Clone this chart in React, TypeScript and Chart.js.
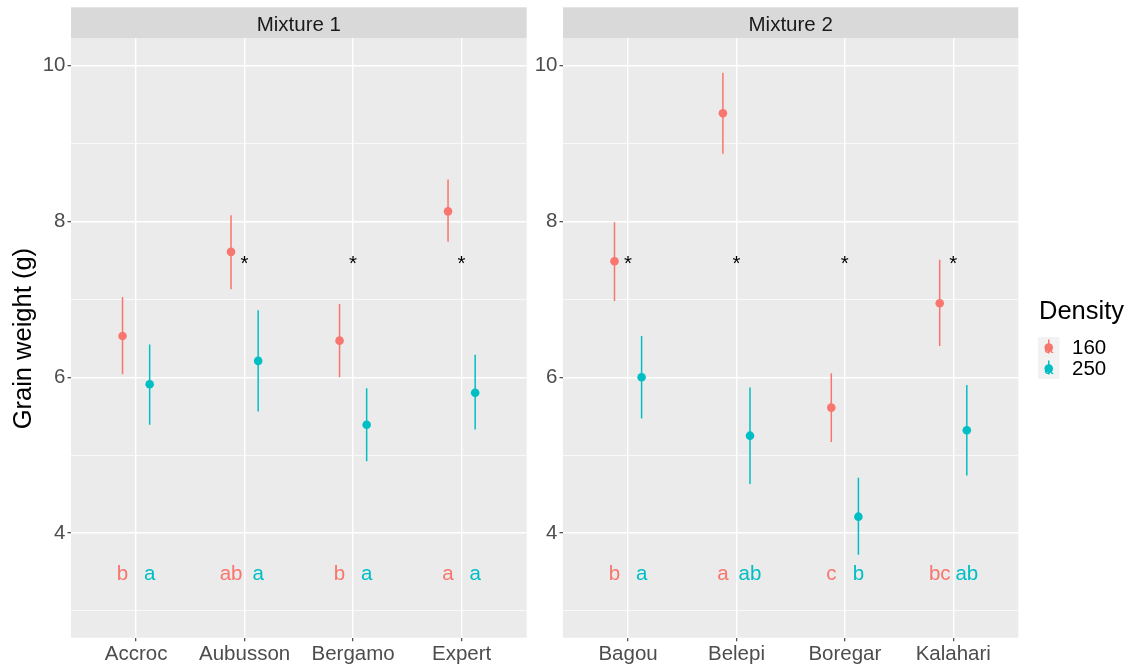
import React, { useEffect, useRef } from 'react';
import { Chart, registerables } from 'chart.js';

Chart.register(...registerables);

// ---------- data ----------
const mix1Categories = ['Accroc', 'Aubusson', 'Bergamo', 'Expert'];
const mix2Categories = ['Bagou', 'Belepi', 'Boregar', 'Kalahari'];
const densityLevels = ['160', '250'];

const mix1Mean160 = [6.53, 7.61, 6.47, 8.13];
const mix1Low160 = [6.04, 7.13, 6.00, 7.74];
const mix1High160 = [7.03, 8.08, 6.94, 8.54];
const mix1Mean250 = [5.91, 6.21, 5.39, 5.80];
const mix1Low250 = [5.39, 5.56, 4.92, 5.33];
const mix1High250 = [6.42, 6.86, 5.86, 6.29];

const mix2Mean160 = [7.49, 9.39, 5.61, 6.95];
const mix2Low160 = [6.98, 8.87, 5.17, 6.40];
const mix2High160 = [7.99, 9.91, 6.05, 7.51];
const mix2Mean250 = [6.00, 5.25, 4.21, 5.32];
const mix2Low250 = [5.47, 4.63, 3.72, 4.74];
const mix2High250 = [6.53, 5.87, 4.71, 5.90];

const mix1Letters160 = ['b', 'ab', 'b', 'a'];
const mix1Letters250 = ['a', 'a', 'a', 'a'];
const mix2Letters160 = ['b', 'a', 'c', 'bc'];
const mix2Letters250 = ['a', 'ab', 'b', 'ab'];
const mix1Signif = ['', '*', '*', '*'];
const mix2Signif = ['*', '*', '*', '*'];

const yMajorTicks = [4, 6, 8, 10];
const yMinorTicks = [3, 5, 7, 9];
const letterY = 3.5;
const signifY = 7.5;
const Y_MIN = 2.656;
const Y_MAX = 10.352;

// ---------- style ----------
const W = 1137;
const H = 670;
const COL160 = '#F8766D';
const COL250 = '#00BFC4';
const FONT = "'Liberation Sans', Arial, Helvetica, sans-serif";
const DODGE = 0.125;
const STRIP_TOP = 7.3;
const PANEL_TOP = 38.3;
const PANEL_BOTTOM = 637.7;
const SMALL = 20.5;
const BIG = 25.5;

type PanelSpec = {
  title: string;
  cats: string[];
  m160: number[]; lo160: number[]; hi160: number[];
  m250: number[]; lo250: number[]; hi250: number[];
  let160: string[]; let250: string[]; signif: string[];
  padLeft: number; padRight: number;
  yTitle: boolean; legend: boolean;
};

function makePlugin(p: PanelSpec) {
  return {
    id: 'panel' + p.title.replace(/\s/g, ''),
    beforeDraw(chart: any) {
      const { ctx, chartArea: a } = chart;
      ctx.save();
      ctx.fillStyle = '#EBEBEB';
      ctx.fillRect(a.left, a.top, a.right - a.left, a.bottom - a.top);
      ctx.fillStyle = '#D9D9D9';
      ctx.fillRect(a.left, STRIP_TOP, a.right - a.left, a.top - STRIP_TOP);
      ctx.fillStyle = '#1A1A1A';
      ctx.font = `${SMALL}px ${FONT}`;
      ctx.textAlign = 'center';
      ctx.textBaseline = 'alphabetic';
      ctx.fillText(p.title, (a.left + a.right) / 2, 30.5);
      if (p.yTitle) {
        ctx.save();
        ctx.translate(31, (STRIP_TOP + 670) / 2);
        ctx.rotate(-Math.PI / 2);
        ctx.fillStyle = '#000000';
        ctx.font = `${BIG}px ${FONT}`;
        ctx.textAlign = 'center';
        ctx.textBaseline = 'alphabetic';
        ctx.fillText('Grain weight (g)', 0, 0);
        ctx.restore();
      }
      if (p.legend) {
        ctx.fillStyle = '#000000';
        ctx.font = `${BIG}px ${FONT}`;
        ctx.textAlign = 'left';
        ctx.textBaseline = 'alphabetic';
        ctx.fillText('Density', 1039, 319);
        const kx = 1038, kw = 21.5, ky = 337, kh = 21;
        ctx.fillStyle = '#F2F2F2';
        ctx.fillRect(kx, ky, kw, kh * densityLevels.length);
        densityLevels.forEach((lvl, i) => {
          const col = i === 0 ? COL160 : COL250;
          const cx = kx + kw / 2;
          const cy = ky + kh * i + kh / 2;
          ctx.strokeStyle = col;
          ctx.lineWidth = 1.5;
          ctx.beginPath();
          ctx.moveTo(cx, cy - 8);
          ctx.lineTo(cx, cy + 6);
          ctx.stroke();
          ctx.fillStyle = col;
          ctx.beginPath();
          ctx.arc(cx, cy, 4.3, 0, Math.PI * 2);
          ctx.fill();
          ctx.font = `${SMALL * 0.8}px ${FONT}`;
          ctx.textAlign = 'center';
          ctx.textBaseline = 'middle';
          ctx.fillText('a', cx, cy + 1);
          ctx.fillStyle = '#000000';
          ctx.font = `${SMALL}px ${FONT}`;
          ctx.textAlign = 'left';
          ctx.textBaseline = 'middle';
          ctx.fillText(lvl, 1072, cy + 1);
        });
      }
      ctx.restore();
    },
    afterDatasetsDraw(chart: any) {
      const { ctx } = chart;
      const xs = chart.scales.x;
      const ys = chart.scales.y;
      ctx.save();
      ctx.font = `${SMALL}px ${FONT}`;
      ctx.textAlign = 'center';
      ctx.textBaseline = 'middle';
      p.cats.forEach((_, i) => {
        const yl = ys.getPixelForValue(letterY) + 2;
        ctx.fillStyle = COL160;
        ctx.fillText(p.let160[i], xs.getPixelForValue(i - DODGE), yl);
        ctx.fillStyle = COL250;
        ctx.fillText(p.let250[i], xs.getPixelForValue(i + DODGE), yl);
        if (p.signif[i]) {
          ctx.fillStyle = '#000000';
          ctx.textBaseline = 'alphabetic';
          ctx.fillText(p.signif[i], xs.getPixelForValue(i), ys.getPixelForValue(signifY) + 0.47 * SMALL);
          ctx.textBaseline = 'middle';
        }
      });
      ctx.restore();
    },
  };
}

function errorData(cats: string[], lo: number[], hi: number[], off: number) {
  const out: any[] = [];
  cats.forEach((_, i) => {
    out.push({ x: i + off, y: lo[i] });
    out.push({ x: i + off, y: hi[i] });
    out.push({ x: i + off, y: null });
  });
  return out;
}

function makeConfig(p: PanelSpec): any {
  const isMajor = (v: any) => yMajorTicks.includes(v);
  return {
    type: 'scatter',
    data: {
      datasets: [
        {
          label: '160',
          data: p.cats.map((_, i) => ({ x: i - DODGE, y: p.m160[i] })),
          backgroundColor: COL160, borderWidth: 0, pointRadius: 4.3,
        },
        {
          label: '250',
          data: p.cats.map((_, i) => ({ x: i + DODGE, y: p.m250[i] })),
          backgroundColor: COL250, borderWidth: 0, pointRadius: 4.3,
        },
        {
          label: '160 range',
          data: errorData(p.cats, p.lo160, p.hi160, -DODGE),
          showLine: true, spanGaps: false, borderColor: COL160, borderWidth: 1.5, pointRadius: 0,
        },
        {
          label: '250 range',
          data: errorData(p.cats, p.lo250, p.hi250, DODGE),
          showLine: true, spanGaps: false, borderColor: COL250, borderWidth: 1.5, pointRadius: 0,
        },
      ],
    },
    options: {
      responsive: false,
      animation: false,
      events: [],
      layout: { padding: { left: p.padLeft, right: p.padRight, top: PANEL_TOP, bottom: 0 } },
      plugins: { legend: { display: false }, tooltip: { enabled: false } },
      scales: {
        x: {
          type: 'linear', min: -0.6, max: p.cats.length - 0.4,
          afterBuildTicks: (s: any) => { s.ticks = p.cats.map((_, i) => ({ value: i })); },
          afterFit: (s: any) => { s.height = H - PANEL_BOTTOM; },
          ticks: {
            callback: (v: any) => p.cats[v] ?? '',
            font: { family: FONT, size: SMALL }, color: '#4D4D4D',
            padding: 0.5, maxRotation: 0, autoSkip: false,
          },
          grid: { color: '#FFFFFF', lineWidth: 1.4, tickColor: '#333333', tickLength: 3.5, tickWidth: 1.1 },
          border: { display: false },
        },
        y: {
          type: 'linear', min: Y_MIN, max: Y_MAX,
          afterBuildTicks: (s: any) => {
            s.ticks = [...yMinorTicks, ...yMajorTicks].sort((a, b) => a - b).map((v) => ({ value: v }));
          },
          afterFit: (s: any) => { s.width = 71; },
          ticks: {
            callback: (v: any) => (isMajor(v) ? String(v) : ''),
            font: { family: FONT, size: SMALL }, color: '#4D4D4D',
            padding: 2, autoSkip: false,
          },
          grid: {
            color: '#FFFFFF',
            lineWidth: (c: any) => (isMajor(c.tick?.value) ? 1.4 : 0.7),
            tickColor: (c: any) => (isMajor(c.tick?.value) ? '#333333' : 'rgba(0,0,0,0)'),
            tickLength: 3.5, tickWidth: 1.1,
          },
          border: { display: false },
        },
      },
    },
    plugins: [makePlugin(p)],
  };
}

export default function App() {
  const ref1 = useRef<HTMLCanvasElement>(null);
  const ref2 = useRef<HTMLCanvasElement>(null);
  useEffect(() => {
    const c1 = new Chart(ref1.current!, makeConfig({
      title: 'Mixture 1', cats: mix1Categories,
      m160: mix1Mean160, lo160: mix1Low160, hi160: mix1High160,
      m250: mix1Mean250, lo250: mix1Low250, hi250: mix1High250,
      let160: mix1Letters160, let250: mix1Letters250, signif: mix1Signif,
      padLeft: 0, padRight: W - 526.7, yTitle: true, legend: false,
    }));
    const c2 = new Chart(ref2.current!, makeConfig({
      title: 'Mixture 2', cats: mix2Categories,
      m160: mix2Mean160, lo160: mix2Low160, hi160: mix2High160,
      m250: mix2Mean250, lo250: mix2Low250, hi250: mix2High250,
      let160: mix2Letters160, let250: mix2Letters250, signif: mix2Signif,
      padLeft: 563 - 71, padRight: W - 1018.3, yTitle: false, legend: true,
    }));
    return () => { c1.destroy(); c2.destroy(); };
  }, []);
  const cs: React.CSSProperties = { position: 'absolute', left: 0, top: 0, width: W, height: H };
  return (
    <div style={{ position: 'absolute', left: 0, top: 0, width: W, height: H, background: '#FFFFFF' }}>
      <canvas ref={ref1} width={W} height={H} style={cs} />
      <canvas ref={ref2} width={W} height={H} style={cs} />
    </div>
  );
}
